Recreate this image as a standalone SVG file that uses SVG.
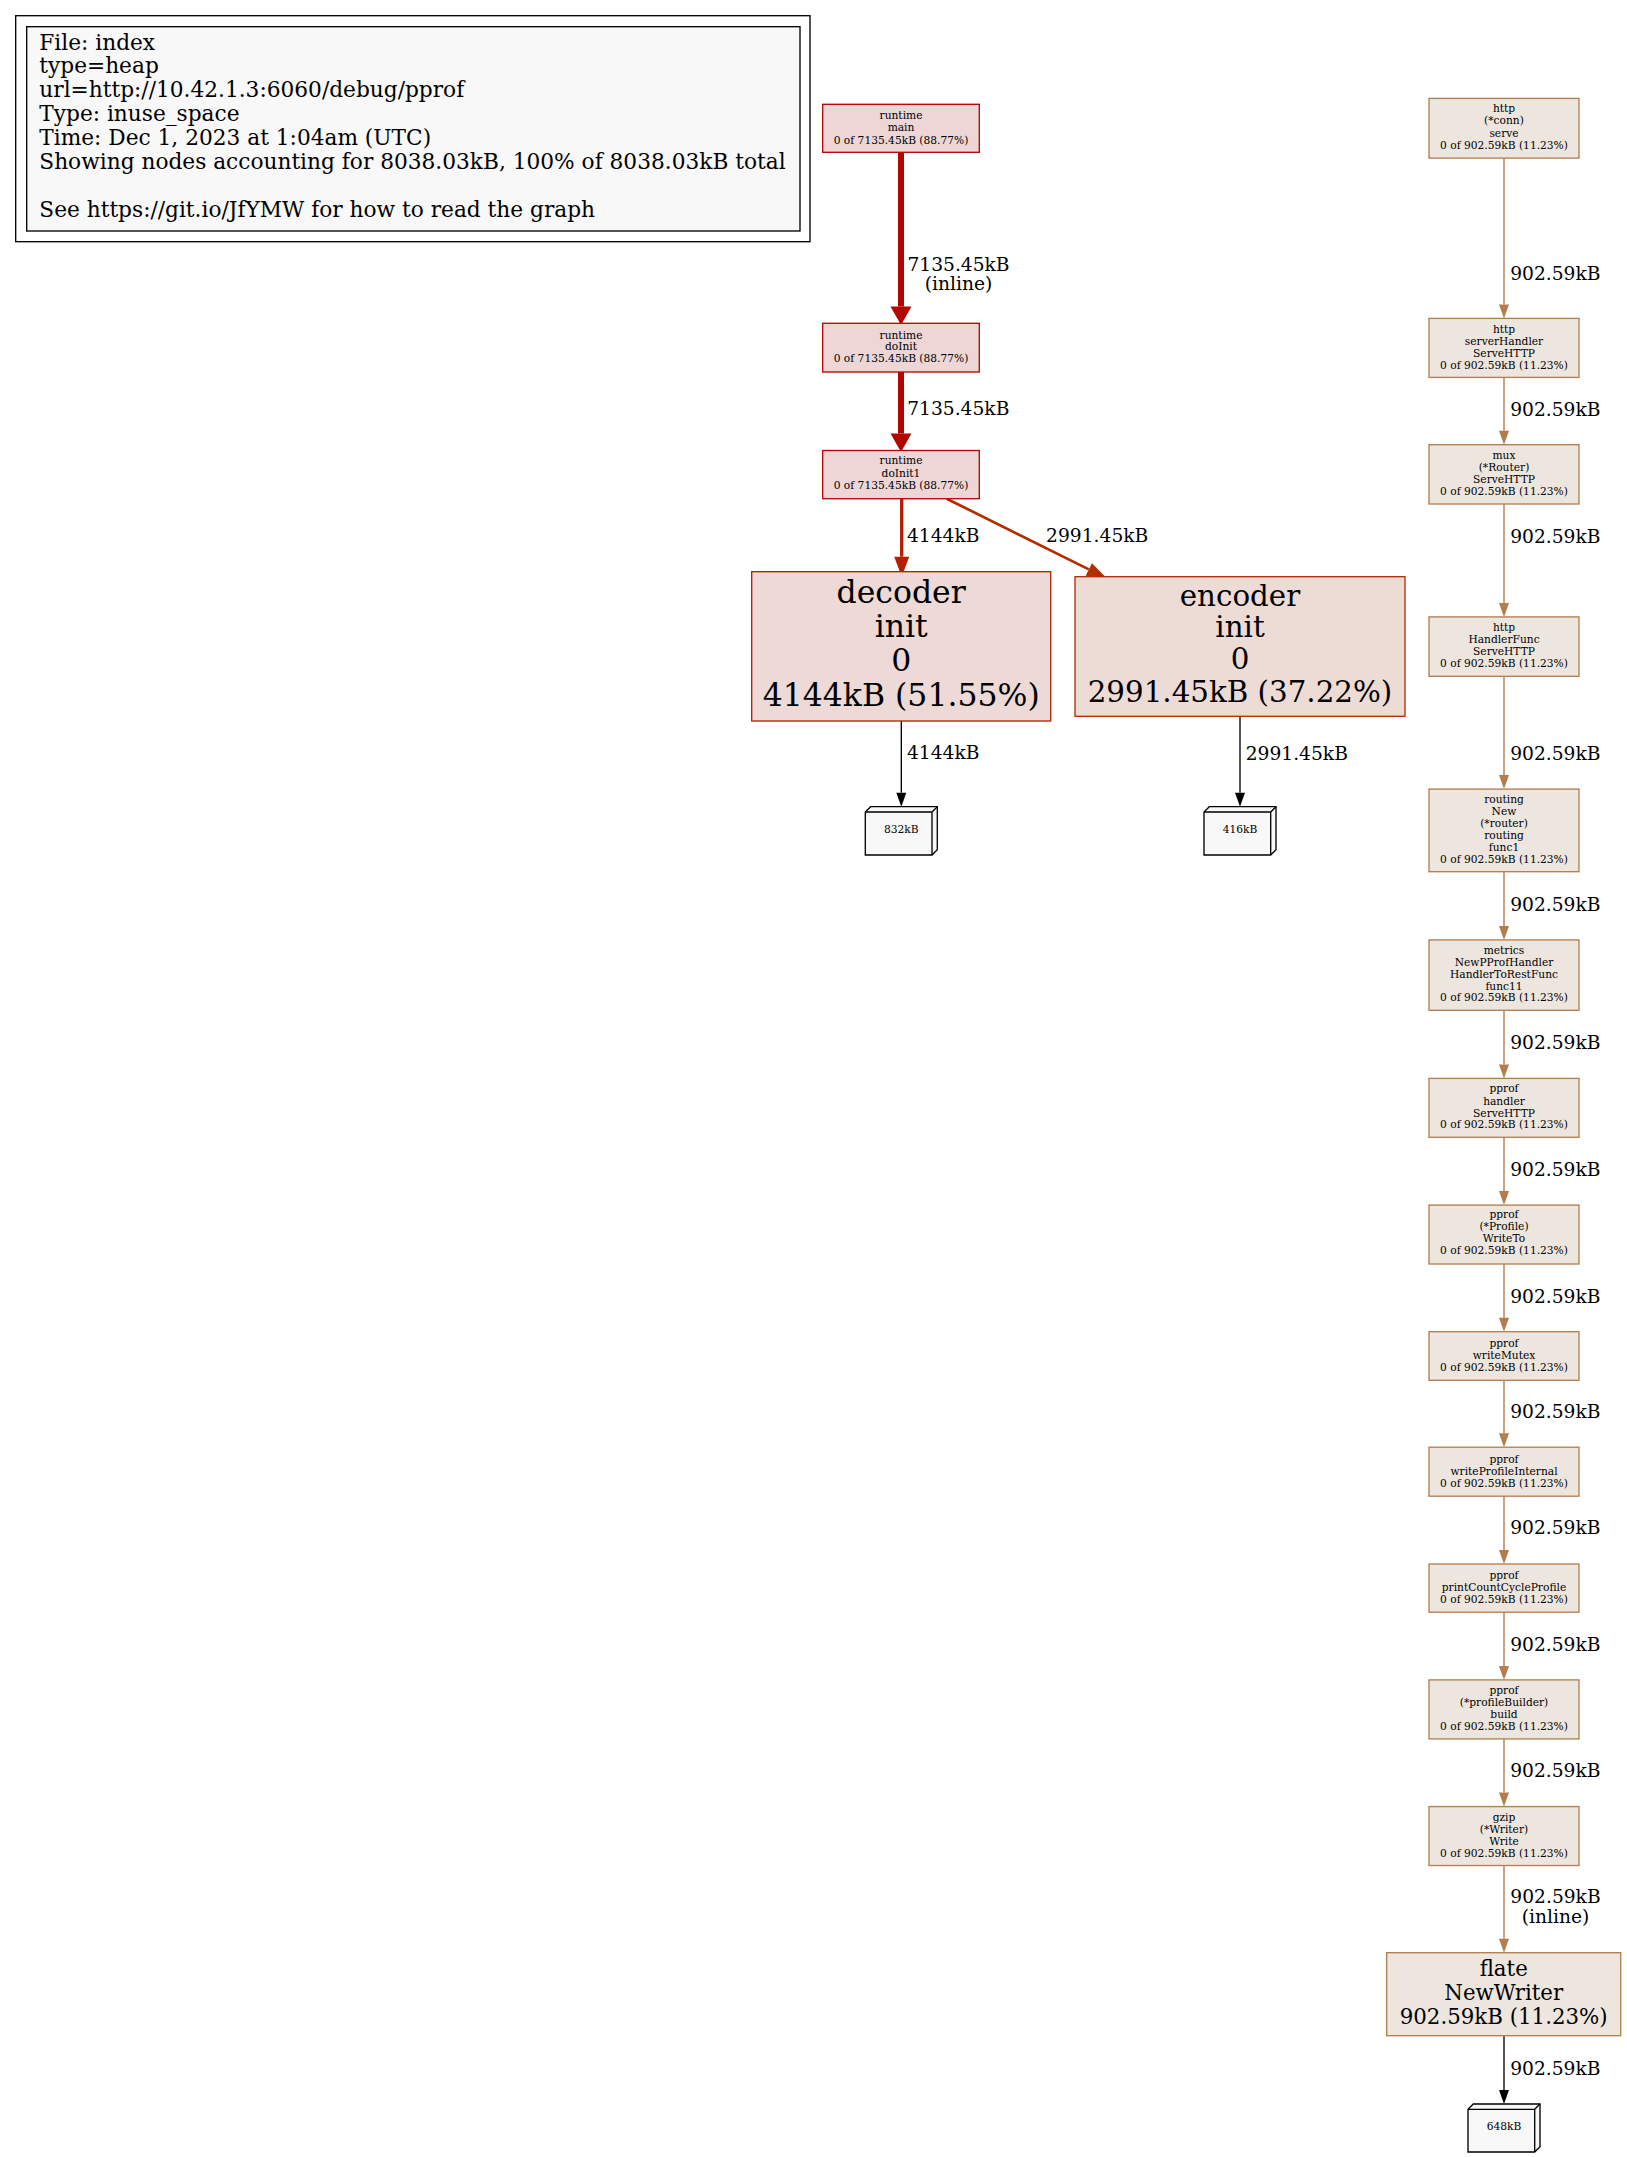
<svg xmlns="http://www.w3.org/2000/svg" width="1627" height="2157" viewBox="0 0 1627 2157">
<style>
text { font-family: "DejaVu Serif", serif; fill: #000; }
.n8 { font-size: 10.67px; text-anchor: middle; }
.el { font-size: 18.67px; text-anchor: middle; }
.lg { font-size: 21.7px; }
.hot { fill: #edd6d5; stroke: #b20600; stroke-width: 1.33; }
.dec { fill: #edd9d5; stroke: #b22000; stroke-width: 1.33; }
.enc { fill: #eddbd5; stroke: #b22d00; stroke-width: 1.33; }
.brn { fill: #ede6df; stroke: #b27e4e; stroke-width: 1.33; }
.tag { fill: #f8f8f8; stroke: #000; stroke-width: 1.33; }
.tagl { fill: none; stroke: #000; stroke-width: 1.33; }
.e { fill: none; }
.e-hot { stroke: #b20600; stroke-width: 6; marker-end: url(#m-hot); }
.e-dec { stroke: #b22000; stroke-width: 3.3; marker-end: url(#m-dec); }
.e-enc { stroke: #b22d00; stroke-width: 2.7; marker-end: url(#m-enc); }
.e-brn { stroke: #b27e4e; stroke-width: 1.4; marker-end: url(#m-brn); }
.e-blk { stroke: #000; stroke-width: 1.33; marker-end: url(#m-blk); }
</style>
<defs>
<marker id="m-hot" markerUnits="userSpaceOnUse" orient="auto" refX="0" refY="0" markerWidth="30" markerHeight="30" overflow="visible"><path d="M0,-10.5 L18.5,0 L0,10.5 Z" fill="#b20600"/></marker>
<marker id="m-dec" markerUnits="userSpaceOnUse" orient="auto" refX="0" refY="0" markerWidth="30" markerHeight="30" overflow="visible"><path d="M0,-7.5 L20,0 L0,7.5 Z" fill="#b22000"/></marker>
<marker id="m-enc" markerUnits="userSpaceOnUse" orient="auto" refX="0" refY="0" markerWidth="30" markerHeight="30" overflow="visible"><path d="M0,-7 L20,0 L0,7 Z" fill="#b22d00"/></marker>
<marker id="m-brn" markerUnits="userSpaceOnUse" orient="auto" refX="0" refY="0" markerWidth="30" markerHeight="30" overflow="visible"><path d="M0,-5 L14,0 L0,5 Z" fill="#b27e4e"/></marker>
<marker id="m-blk" markerUnits="userSpaceOnUse" orient="auto" refX="0" refY="0" markerWidth="30" markerHeight="30" overflow="visible"><path d="M0,-5 L14,0 L0,5 Z" fill="#000"/></marker>
</defs>
<rect width="1627" height="2157" fill="#fff"/>

<g id="legend">
<rect x="15.7" y="15.7" width="794.3" height="226" fill="none" stroke="#000" stroke-width="1.33"/>
<rect x="26.7" y="26.7" width="773.3" height="204.3" fill="#f8f8f8" stroke="#000" stroke-width="1.33"/>
<text class="lg" x="39.3" y="49.5">File: index</text>
<text class="lg" x="39.3" y="73.45">type=heap</text>
<text class="lg" x="39.3" y="97.4">url=http://10.42.1.3:6060/debug/pprof</text>
<text class="lg" x="39.3" y="121.35">Type: inuse_space</text>
<text class="lg" x="39.3" y="145.3">Time: Dec 1, 2023 at 1:04am (UTC)</text>
<text class="lg" x="39.3" y="169.25">Showing nodes accounting for 8038.03kB, 100% of 8038.03kB total</text>
<text class="lg" x="39.3" y="217.15">See https://git.io/JfYMW for how to read the graph</text>
</g>

<g id="edges">
<path class="e e-hot" d="M901,152.3 V306.5"/>
<path class="e e-hot" d="M901,372 V433.5"/>
<path class="e e-dec" d="M901.7,498.7 V556.7"/>
<path class="e e-enc" d="M946.7,498.7 L1088.8,569.4"/>
<path class="e e-blk" d="M901.3,721 V792.7"/>
<path class="e e-blk" d="M1240,716.3 V792.7"/>
<path class="e e-brn" d="M1504,158.1 V304.4"/>
<path class="e e-brn" d="M1504,377.4 V430.7"/>
<path class="e e-brn" d="M1504,504 V602.9"/>
<path class="e e-brn" d="M1504,676.3 V775.1"/>
<path class="e e-brn" d="M1504,871.7 V925.9"/>
<path class="e e-brn" d="M1504,1010.3 V1064.4"/>
<path class="e e-brn" d="M1504,1137.3 V1191.1"/>
<path class="e e-brn" d="M1504,1264 V1317.7"/>
<path class="e e-brn" d="M1504,1380.3 V1433.2"/>
<path class="e e-brn" d="M1504,1496.2 V1550"/>
<path class="e e-brn" d="M1504,1612.2 V1665.9"/>
<path class="e e-brn" d="M1504,1738.9 V1792.6"/>
<path class="e e-brn" d="M1504,1865.5 V1938.7"/>
<path class="e e-blk" d="M1504,2035.7 V2090"/>
<text class="el" x="958.5" y="270.7">7135.45kB</text>
<text class="el" x="958.5" y="290">(inline)</text>
<text class="el" x="958.3" y="415">7135.45kB</text>
<text class="el" x="943.2" y="542.3">4144kB</text>
<text class="el" x="1097.2" y="542.3">2991.45kB</text>
<text class="el" x="943.2" y="759">4144kB</text>
<text class="el" x="1296.8" y="760">2991.45kB</text>
<text class="el" x="1555.3" y="279.6">902.59kB</text>
<text class="el" x="1555.3" y="415.8">902.59kB</text>
<text class="el" x="1555.3" y="542.6">902.59kB</text>
<text class="el" x="1555.3" y="759.8">902.59kB</text>
<text class="el" x="1555.3" y="910.7">902.59kB</text>
<text class="el" x="1555.3" y="1049.4">902.59kB</text>
<text class="el" x="1555.3" y="1175.8">902.59kB</text>
<text class="el" x="1555.3" y="1302.8">902.59kB</text>
<text class="el" x="1555.3" y="1418.3">902.59kB</text>
<text class="el" x="1555.3" y="1534">902.59kB</text>
<text class="el" x="1555.3" y="1650.5">902.59kB</text>
<text class="el" x="1555.3" y="1776.8">902.59kB</text>
<text class="el" x="1555.5" y="1903.3">902.59kB</text>
<text class="el" x="1555.5" y="1923.3">(inline)</text>
<text class="el" x="1555.3" y="2075">902.59kB</text>
</g>

<g id="runtime_main">
<rect class="hot" x="822.7" y="104.3" width="156.6" height="48"/>
<text class="n8" x="901" y="118.7">runtime</text>
<text class="n8" x="901" y="131">main</text>
<text class="n8" x="901" y="143.7">0 of 7135.45kB (88.77%)</text>
</g>
<g id="runtime_doInit">
<rect class="hot" x="822.7" y="323.3" width="156.6" height="48.7"/>
<text class="n8" x="901" y="338.7">runtime</text>
<text class="n8" x="901" y="350.4">doInit</text>
<text class="n8" x="901" y="362">0 of 7135.45kB (88.77%)</text>
</g>
<g id="runtime_doInit1">
<rect class="hot" x="822.7" y="450.5" width="156.6" height="48.2"/>
<text class="n8" x="901" y="464.4">runtime</text>
<text class="n8" x="901" y="477">doInit1</text>
<text class="n8" x="901" y="489.4">0 of 7135.45kB (88.77%)</text>
</g>
<g id="decoder_init_0">
<rect class="dec" x="751.7" y="571.7" width="299" height="149.3"/>
<text x="901.2" y="602.7" font-size="31.5" text-anchor="middle">decoder</text>
<text x="901.2" y="637.3" font-size="31.5" text-anchor="middle">init</text>
<text x="901.2" y="671" font-size="31.5" text-anchor="middle">0</text>
<text x="901.2" y="705.7" font-size="31.5" text-anchor="middle">4144kB (51.55%)</text>
</g>
<g id="encoder_init_0">
<rect class="enc" x="1075" y="576.7" width="330" height="139.6"/>
<text x="1240" y="605.7" font-size="29.33" text-anchor="middle">encoder</text>
<text x="1240" y="637.3" font-size="29.33" text-anchor="middle">init</text>
<text x="1240" y="669.3" font-size="29.33" text-anchor="middle">0</text>
<text x="1240" y="701.7" font-size="29.33" text-anchor="middle">2991.45kB (37.22%)</text>
</g>
<g id="tag_832kB">
<path class="tag" d="M937.3,806.7 L870.6,806.7 L865.3,812 L865.3,855 L932,855 L937.3,849.7 Z"/>
<path class="tagl" d="M865.3,812 H932 V855 M932,812 L937.3,806.7"/>
<text class="n8" x="901.3" y="833">832kB</text>
</g>
<g id="tag_416kB">
<path class="tag" d="M1276,806.7 L1209.3,806.7 L1204,812 L1204,855 L1270.7,855 L1276,849.7 Z"/>
<path class="tagl" d="M1204,812 H1270.7 V855 M1270.7,812 L1276,806.7"/>
<text class="n8" x="1240" y="833">416kB</text>
</g>

<g id="http_conn_serve">
<rect class="brn" x="1429" y="98.4" width="150" height="59.7"/>
<text class="n8" x="1504" y="112.4">http</text>
<text class="n8" x="1504" y="124.3">(*conn)</text>
<text class="n8" x="1504" y="136.5">serve</text>
<text class="n8" x="1504" y="148.8">0 of 902.59kB (11.23%)</text>
</g>
<g id="http_serverHandler_ServeHTTP">
<rect class="brn" x="1429" y="318.4" width="150" height="59"/>
<text class="n8" x="1504" y="332.5">http</text>
<text class="n8" x="1504" y="344.7">serverHandler</text>
<text class="n8" x="1504" y="356.9">ServeHTTP</text>
<text class="n8" x="1504" y="368.8">0 of 902.59kB (11.23%)</text>
</g>
<g id="mux_Router_ServeHTTP">
<rect class="brn" x="1429" y="444.7" width="150" height="59.3"/>
<text class="n8" x="1504" y="458.7">mux</text>
<text class="n8" x="1504" y="471">(*Router)</text>
<text class="n8" x="1504" y="482.9">ServeHTTP</text>
<text class="n8" x="1504" y="495.1">0 of 902.59kB (11.23%)</text>
</g>
<g id="http_HandlerFunc_ServeHTTP">
<rect class="brn" x="1429" y="616.9" width="150" height="59.4"/>
<text class="n8" x="1504" y="631">http</text>
<text class="n8" x="1504" y="642.8">HandlerFunc</text>
<text class="n8" x="1504" y="654.7">ServeHTTP</text>
<text class="n8" x="1504" y="666.9">0 of 902.59kB (11.23%)</text>
</g>
<g id="routing_New_router_routing_func1">
<rect class="brn" x="1429" y="789.1" width="150" height="82.6"/>
<text class="n8" x="1504" y="803.1">routing</text>
<text class="n8" x="1504" y="815">New</text>
<text class="n8" x="1504" y="826.8">(*router)</text>
<text class="n8" x="1504" y="839.1">routing</text>
<text class="n8" x="1504" y="850.9">func1</text>
<text class="n8" x="1504" y="862.8">0 of 902.59kB (11.23%)</text>
</g>
<g id="metrics_NewPProfHandler_HandlerToRestFunc_func11">
<rect class="brn" x="1429" y="939.9" width="150" height="70.4"/>
<text class="n8" x="1504" y="953.9">metrics</text>
<text class="n8" x="1504" y="965.7">NewPProfHandler</text>
<text class="n8" x="1504" y="978">HandlerToRestFunc</text>
<text class="n8" x="1504" y="989.9">func11</text>
<text class="n8" x="1504" y="1001.3">0 of 902.59kB (11.23%)</text>
</g>
<g id="pprof_handler_ServeHTTP">
<rect class="brn" x="1429" y="1078.4" width="150" height="58.9"/>
<text class="n8" x="1504" y="1092.4">pprof</text>
<text class="n8" x="1504" y="1104.7">handler</text>
<text class="n8" x="1504" y="1116.5">ServeHTTP</text>
<text class="n8" x="1504" y="1128.4">0 of 902.59kB (11.23%)</text>
</g>
<g id="pprof_Profile_WriteTo">
<rect class="brn" x="1429" y="1205.1" width="150" height="58.9"/>
<text class="n8" x="1504" y="1218.3">pprof</text>
<text class="n8" x="1504" y="1230.2">(*Profile)</text>
<text class="n8" x="1504" y="1242.4">WriteTo</text>
<text class="n8" x="1504" y="1254.3">0 of 902.59kB (11.23%)</text>
</g>
<g id="pprof_writeMutex">
<rect class="brn" x="1429" y="1331.7" width="150" height="48.6"/>
<text class="n8" x="1504" y="1346.8">pprof</text>
<text class="n8" x="1504" y="1358.7">writeMutex</text>
<text class="n8" x="1504" y="1370.6">0 of 902.59kB (11.23%)</text>
</g>
<g id="pprof_writeProfileInternal">
<rect class="brn" x="1429" y="1447.2" width="150" height="49"/>
<text class="n8" x="1504" y="1462.8">pprof</text>
<text class="n8" x="1504" y="1474.7">writeProfileInternal</text>
<text class="n8" x="1504" y="1486.5">0 of 902.59kB (11.23%)</text>
</g>
<g id="pprof_printCountCycleProfile">
<rect class="brn" x="1429" y="1564" width="150" height="48.2"/>
<text class="n8" x="1504" y="1579.1">pprof</text>
<text class="n8" x="1504" y="1590.6">printCountCycleProfile</text>
<text class="n8" x="1504" y="1602.5">0 of 902.59kB (11.23%)</text>
</g>
<g id="pprof_profileBuilder_build">
<rect class="brn" x="1429" y="1679.9" width="150" height="59"/>
<text class="n8" x="1504" y="1694">pprof</text>
<text class="n8" x="1504" y="1706.2">(*profileBuilder)</text>
<text class="n8" x="1504" y="1718.1">build</text>
<text class="n8" x="1504" y="1729.9">0 of 902.59kB (11.23%)</text>
</g>
<g id="gzip_Writer_Write">
<rect class="brn" x="1429" y="1806.6" width="150" height="58.9"/>
<text class="n8" x="1504" y="1821.4">gzip</text>
<text class="n8" x="1504" y="1833.3">(*Writer)</text>
<text class="n8" x="1504" y="1845.1">Write</text>
<text class="n8" x="1504" y="1857">0 of 902.59kB (11.23%)</text>
</g>
<g id="flate_NewWriter">
<rect class="brn" x="1386.7" y="1952.7" width="234" height="83"/>
<text x="1503.7" y="1975.7" font-size="21.33" text-anchor="middle">flate</text>
<text x="1503.7" y="2000" font-size="21.33" text-anchor="middle">NewWriter</text>
<text x="1503.7" y="2024" font-size="21.33" text-anchor="middle">902.59kB (11.23%)</text>
</g>
<g id="tag_648kB">
<path class="tag" d="M1540,2104 L1473.3,2104 L1468,2109.3 L1468,2152 L1534.7,2152 L1540,2146.7 Z"/>
<path class="tagl" d="M1468,2109.3 H1534.7 V2152 M1534.7,2109.3 L1540,2104"/>
<text class="n8" x="1504" y="2130.4">648kB</text>
</g>
</svg>
